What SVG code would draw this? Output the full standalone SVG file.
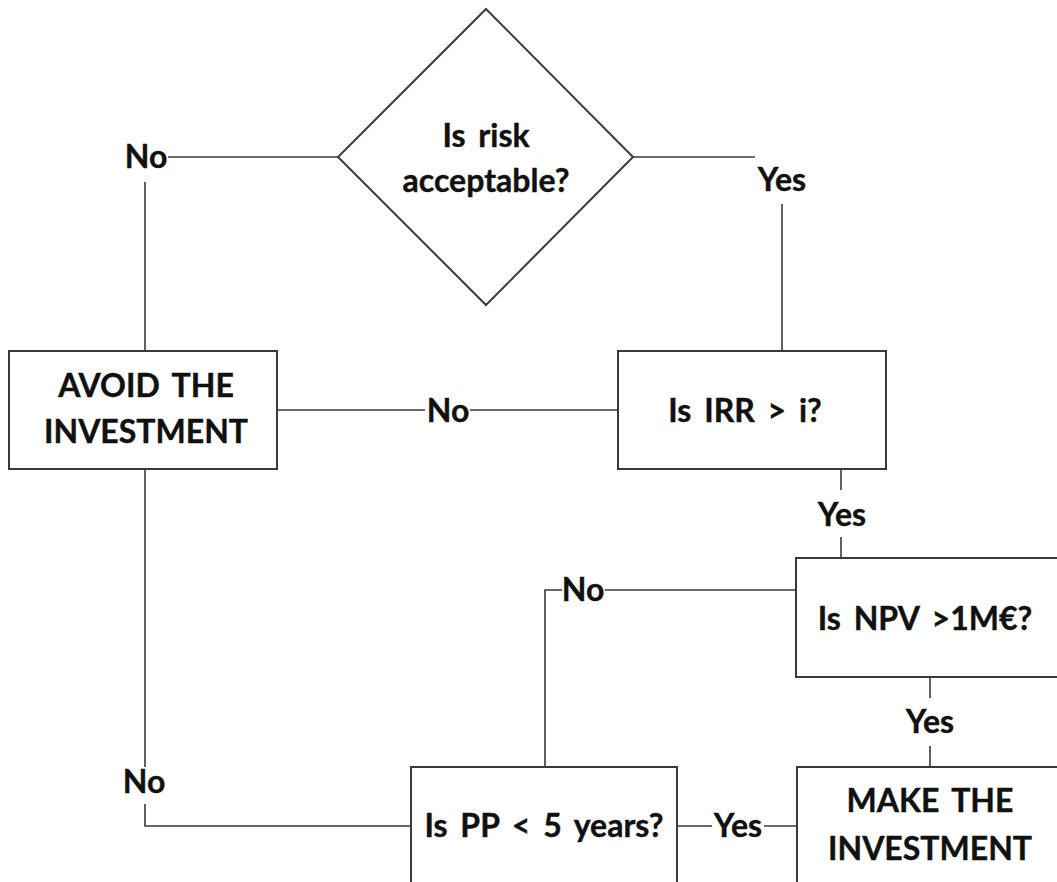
<svg xmlns="http://www.w3.org/2000/svg" width="1057" height="882" viewBox="0 0 1057 882">
<style>
.shape{fill:#fff;stroke:#3a3a3a;stroke-width:2}
.ln{fill:none;stroke:#3a3a3a;stroke-width:1.6}
text{font-family:Lato,"Liberation Sans",sans-serif;font-weight:bold;font-size:32px;fill:#111;stroke:#111;stroke-width:0.4;text-anchor:middle;word-spacing:5px}
</style>
<rect width="1057" height="882" fill="#fff"/>
<g id="connectors">
<polyline class="ln" points="338,157 168,157"/>
<polyline class="ln" points="145,182 145,351"/>
<polyline class="ln" points="633,157 755,157"/>
<polyline class="ln" points="782,204 782,351"/>
<polyline class="ln" points="278,410 425,410"/>
<polyline class="ln" points="470,410 618,410"/>
<polyline class="ln" points="841,469 841,490"/>
<polyline class="ln" points="841,537 841,558"/>
<polyline class="ln" points="796,590 605,590"/>
<polyline class="ln" points="562,590 545,590 545,767"/>
<polyline class="ln" points="930,677 930,698"/>
<polyline class="ln" points="930,746 930,767"/>
<polyline class="ln" points="145,469 145,767"/>
<polyline class="ln" points="145,804 145,826 411,826"/>
<polyline class="ln" points="677,826 712,826"/>
<polyline class="ln" points="764,826 797,826"/>
</g>
<g id="labels">
<text x="146" y="168">No</text>
<text x="782" y="191">Yes</text>
<text x="448" y="422">No</text>
<text x="842" y="526">Yes</text>
<text x="583" y="601">No</text>
<text x="930" y="733">Yes</text>
<text x="144" y="793">No</text>
<text x="738" y="837">Yes</text>
</g>
<g id="risk">
<polygon class="shape" points="486,9 633,157 486,305 338,157"/>
<text x="486" y="147">Is risk</text>
<text x="486" y="192">acceptable?</text>
</g>
<g id="avoid">
<rect class="shape" x="9" y="351" width="268" height="118"/>
<text x="146" y="397">AVOID THE</text>
<text x="146" y="443">INVESTMENT</text>
</g>
<g id="irr">
<rect class="shape" x="618" y="351" width="268" height="118"/>
<text x="745" y="422">Is IRR &gt; i?</text>
</g>
<g id="npv">
<rect class="shape" x="796" y="558" width="280" height="119"/>
<text x="925" y="630">Is NPV &gt;1M€?</text>
</g>
<g id="pp">
<rect class="shape" x="411" y="767" width="266" height="130"/>
<text x="544" y="837">Is PP &lt; 5 years?</text>
</g>
<g id="make">
<rect class="shape" x="797" y="767" width="280" height="130"/>
<text x="930" y="812">MAKE THE</text>
<text x="930" y="860">INVESTMENT</text>
</g>
</svg>
